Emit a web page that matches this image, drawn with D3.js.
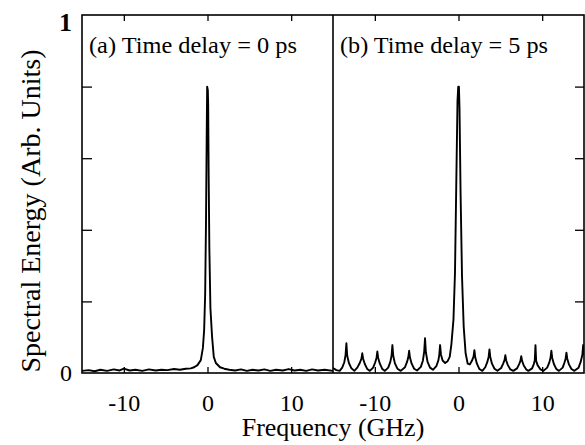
<!DOCTYPE html>
<html>
<head>
<meta charset="utf-8">
<script src="https://cdn.jsdelivr.net/npm/d3@7"></script>
<style>
  body { margin: 0; background: #fff; overflow: hidden; }
  svg { display: block; }
</style>
</head>
<body>
<script>
// spectra: [frequency GHz, spectral energy]
const freqTicks = [-10, 0, 10];
const energyTicks = [0, 0.2, 0.4, 0.6, 0.8, 1];
const panelLabels = ['(a) Time delay = 0 ps', '(b) Time delay = 5 ps'];

const spectrumA = [
  [-15, 0.006], [-14.2, 0.008], [-13.5, 0.005], [-12.8, 0.009], [-12, 0.006], [-11.2, 0.01],
  [-10.5, 0.007], [-10, 0.012], [-9.3, 0.007], [-8.6, 0.009], [-7.8, 0.006], [-7, 0.01],
  [-6.2, 0.007], [-5.5, 0.009], [-4.8, 0.008], [-4, 0.011], [-3.3, 0.009], [-2.6, 0.012],
  [-2, 0.013], [-1.6, 0.016], [-1.2, 0.022], [-0.8, 0.036], [-0.55, 0.07], [-0.4, 0.12],
  [-0.28, 0.22], [-0.18, 0.42], [-0.1, 0.65], [-0.04, 0.8], [0.04, 0.79], [0.08, 0.75],
  [0.14, 0.55], [0.22, 0.35], [0.35, 0.18], [0.55, 0.1], [0.75, 0.045], [1.0, 0.028],
  [1.5, 0.016], [2, 0.012], [2.6, 0.009], [3.3, 0.007], [4, 0.01], [4.7, 0.006],
  [5.4, 0.009], [6.1, 0.007], [6.8, 0.01], [7.5, 0.006], [8.2, 0.009], [9, 0.007],
  [9.7, 0.011], [10.4, 0.007], [11.1, 0.009], [11.8, 0.006], [12.5, 0.01], [13.2, 0.007],
  [14, 0.009], [15, 0.006]
];

const spectrumB = [
  [-15, 0.014], [-14.6, 0.008], [-14.2, 0.006],
  [-13.9, 0.015], [-13.65, 0.03], [-13.5, 0.05], [-13.4, 0.083], [-13.3, 0.048], [-13.1, 0.028], [-12.8, 0.013], [-12.45, 0.006],
  [-12.1, 0.015], [-11.8, 0.028], [-11.6, 0.04], [-11.5, 0.055], [-11.4, 0.04], [-11.2, 0.025], [-10.9, 0.011], [-10.6, 0.006],
  [-10.2, 0.015], [-9.95, 0.03], [-9.8, 0.042], [-9.7, 0.06], [-9.6, 0.042], [-9.4, 0.026], [-9.1, 0.011], [-8.8, 0.006],
  [-8.4, 0.015], [-8.15, 0.031], [-8.0, 0.048], [-7.9, 0.078], [-7.8, 0.048], [-7.6, 0.027], [-7.3, 0.012], [-6.9, 0.006],
  [-6.4, 0.016], [-6.15, 0.031], [-6.0, 0.044], [-5.9, 0.062], [-5.8, 0.043], [-5.6, 0.026], [-5.3, 0.012], [-4.95, 0.007],
  [-4.5, 0.017], [-4.25, 0.035], [-4.1, 0.06], [-4.0, 0.097], [-3.9, 0.058], [-3.7, 0.031], [-3.4, 0.015], [-3.05, 0.009],
  [-2.65, 0.019], [-2.4, 0.036], [-2.3, 0.05], [-2.2, 0.078], [-2.1, 0.052], [-1.9, 0.035], [-1.6, 0.028], [-1.3, 0.033],
  [-1.05, 0.045], [-0.85, 0.08], [-0.6, 0.15], [-0.42, 0.28], [-0.27, 0.52], [-0.12, 0.76], [-0.03, 0.8], [0.05, 0.8],
  [0.12, 0.74], [0.25, 0.5], [0.42, 0.27], [0.62, 0.13], [0.85, 0.055], [1.1, 0.026], [1.35, 0.024],
  [1.6, 0.034], [1.8, 0.046], [1.9, 0.064], [2.0, 0.044], [2.2, 0.026], [2.5, 0.011], [2.85, 0.006],
  [3.2, 0.016], [3.45, 0.031], [3.6, 0.045], [3.7, 0.066], [3.8, 0.044], [4.0, 0.026], [4.3, 0.012], [4.65, 0.006],
  [5.1, 0.014], [5.35, 0.027], [5.5, 0.036], [5.6, 0.05], [5.7, 0.035], [5.9, 0.022], [6.2, 0.01], [6.55, 0.006],
  [7.0, 0.013], [7.25, 0.025], [7.4, 0.034], [7.5, 0.047], [7.6, 0.034], [7.8, 0.021], [8.1, 0.01], [8.35, 0.006],
  [8.8, 0.013], [9.0, 0.025], [9.12, 0.036], [9.2, 0.078], [9.28, 0.034], [9.45, 0.022], [9.8, 0.01], [10.15, 0.006],
  [10.6, 0.015], [10.85, 0.029], [11.0, 0.043], [11.1, 0.062], [11.2, 0.042], [11.4, 0.025], [11.7, 0.011], [12.0, 0.006],
  [12.45, 0.015], [12.65, 0.028], [12.8, 0.04], [12.9, 0.057], [13.0, 0.04], [13.2, 0.024], [13.5, 0.011], [13.85, 0.006],
  [14.35, 0.015], [14.6, 0.031], [14.8, 0.05], [14.9, 0.078], [15, 0.05]
];

const serif = 'Liberation Serif';
const width = 585;
const height = 445;
const margin = { top: 15, right: 1, bottom: 72, left: 82 };
const innerWidth = width - margin.left - margin.right;
const innerHeight = height - margin.top - margin.bottom;
const panelWidth = innerWidth / 2;

const svg = d3.select('body').append('svg')
  .attr('width', width)
  .attr('height', height)
  .attr('font-family', serif);

const yScale = d3.scaleLinear().domain([0, 1]).range([margin.top + innerHeight, margin.top]);

// tick-only axes: keep the lines, drop the empty labels
const ticksOnly = (a) => {
  a.select('.domain').remove();
  a.selectAll('text').remove();
  a.selectAll('line').attr('stroke-width', 1.3);
};

const panels = [
  { data: spectrumA, label: panelLabels[0], x0: margin.left },
  { data: spectrumB, label: panelLabels[1], x0: margin.left + panelWidth },
];

panels.forEach((p, i) => {
  const xScale = d3.scaleLinear().domain([-15, 15]).range([p.x0, p.x0 + panelWidth]);
  const g = svg.append('g');

  g.append('clipPath').attr('id', 'clip' + i)
    .append('rect')
    .attr('x', p.x0).attr('y', margin.top)
    .attr('width', panelWidth).attr('height', innerHeight);

  // bottom axis with labels, ticks pointing in
  g.append('g')
    .attr('transform', `translate(0,${yScale(0)})`)
    .call(d3.axisBottom(xScale).tickValues(freqTicks).tickSizeInner(-6).tickSizeOuter(0)
      .tickPadding(21).tickFormat((d) => String(d)))
    .attr('font-family', serif)
    .call((a) => a.select('.domain').remove())
    .call((a) => a.selectAll('line').attr('stroke-width', 1.3))
    .call((a) => a.selectAll('text').attr('font-size', 24));

  // top ticks
  g.append('g')
    .attr('transform', `translate(0,${yScale(1)})`)
    .call(d3.axisTop(xScale).tickValues(freqTicks).tickSizeInner(-6).tickSizeOuter(0))
    .call(ticksOnly);

  const line = d3.line()
    .x((d) => xScale(d[0]))
    .y((d) => yScale(d[1]));

  g.append('path')
    .datum(p.data)
    .attr('clip-path', `url(#clip${i})`)
    .attr('fill', 'none')
    .attr('stroke', '#000')
    .attr('stroke-width', 1.9)
    .attr('stroke-linejoin', 'round')
    .attr('d', line);

  g.append('text')
    .attr('x', p.x0 + 7)
    .attr('y', margin.top + 38)
    .attr('font-size', 23)
    .attr('textLength', 208)
    .attr('lengthAdjust', 'spacingAndGlyphs')
    .text(p.label);
});

// left and right energy ticks
svg.append('g')
  .attr('transform', `translate(${margin.left},0)`)
  .call(d3.axisLeft(yScale).tickValues(energyTicks.slice(1, -1)).tickSizeInner(-10).tickSizeOuter(0))
  .call(ticksOnly);

svg.append('g')
  .attr('transform', `translate(${margin.left + innerWidth},0)`)
  .call(d3.axisRight(yScale).tickValues(energyTicks.slice(1, -1)).tickSizeInner(-9).tickSizeOuter(0))
  .call(ticksOnly);

// only the ends are labelled
svg.append('text')
  .attr('x', margin.left - 10).attr('y', yScale(0) + 8)
  .attr('text-anchor', 'end').attr('font-size', 24)
  .text(energyTicks[0]);
svg.append('text')
  .attr('x', margin.left - 10).attr('y', yScale(1) + 16)
  .attr('text-anchor', 'end').attr('font-size', 26).attr('font-weight', 'bold')
  .text(energyTicks[energyTicks.length - 1]);

// frame and divider
svg.append('rect')
  .attr('x', margin.left).attr('y', margin.top)
  .attr('width', innerWidth).attr('height', innerHeight)
  .attr('fill', 'none').attr('stroke', '#000').attr('stroke-width', 1.6);
svg.append('line')
  .attr('x1', margin.left + panelWidth).attr('x2', margin.left + panelWidth)
  .attr('y1', margin.top).attr('y2', margin.top + innerHeight)
  .attr('stroke', '#000').attr('stroke-width', 1.6);

svg.append('text')
  .attr('x', margin.left + panelWidth)
  .attr('y', 436)
  .attr('text-anchor', 'middle')
  .attr('font-size', 26)
  .text('Frequency (GHz)');

svg.append('text')
  .attr('transform', `translate(40,${margin.top + innerHeight / 2 + 17}) rotate(-90)`)
  .attr('text-anchor', 'middle')
  .attr('font-size', 28)
  .text('Spectral Energy (Arb. Units)');
</script>
</body>
</html>
